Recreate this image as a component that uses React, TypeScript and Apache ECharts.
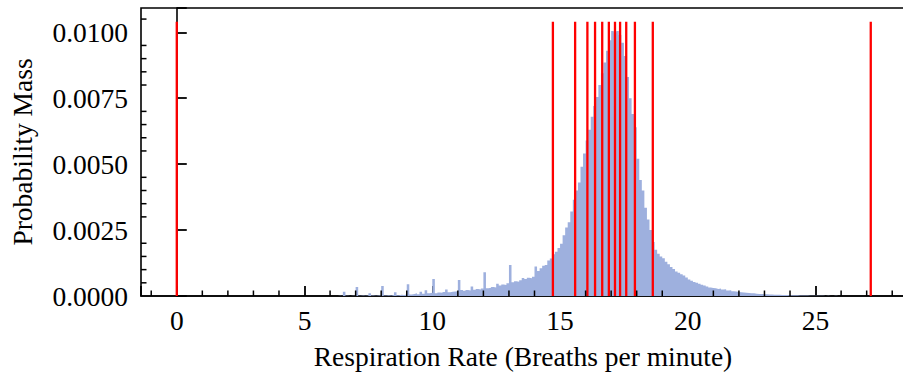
import React, { useEffect, useRef } from "react";
import * as echarts from "echarts";

// Histogram of respiration rate: left edge of first bin, bin width, probability mass per bin (x 1e-4)
const HIST_START = 6.0;
const HIST_STEP = 0.1;
const histMassPer10k = [
  0, 0, 0, 0.1, 0, 1.6, 0.1, 0, 0.1, 0.1,
  3.4, 0.1, 0.2, 0.1, 0.2, 1.0, 0.2, 0.1, 0.2, 0.3,
  3.8, 0.2, 0.3, 0.2, 0.4, 1.4, 0.3, 0.5, 0.4, 0.6,
  4.5, 0.6, 0.8, 1.0, 0.7, 1.6, 0.9, 2.2, 1.0, 1.2,
  6.4, 1.0, 1.3, 1.2, 1.5, 2.5, 1.4, 1.6, 1.7, 1.8,
  6.1, 2.3, 2.0, 2.3, 2.1, 3.6, 2.4, 2.7, 2.5, 2.8,
  9.0, 2.9, 3.1, 3.4, 3.2, 4.6, 4.0, 4.4, 4.2, 4.8,
  11.8, 5.2, 5.6, 5.4, 6.0, 6.8, 6.4, 6.9, 6.7, 7.3,
  11.2, 9.5, 10.5, 11.5, 11.8, 13.5, 14.2, 15.8, 16.8, 18.2,
  19.8, 23.0, 26.0, 28.0, 32.0, 36.5, 40.0, 43.0, 49.0, 54.0,
  59.0, 63.0, 68.0, 72.0, 75.5, 80.0, 84.5, 88.5, 93.0, 97.0,
  100.5, 100.0, 100.5, 99.0, 96.0, 91.0, 83.0, 75.0, 69.0, 64.0,
  52.0, 44.0, 40.0, 33.5, 29.0, 25.0, 20.5, 17.5, 16.0, 15.0,
  14.3, 13.0, 12.0, 11.0, 10.2, 9.3, 8.8, 8.2, 7.8, 7.0,
  6.3, 5.8, 5.3, 5.0, 4.6, 4.3, 4.0, 3.6, 3.2, 3.0,
  2.9, 2.7, 2.8, 2.5, 2.6, 2.1, 2.2, 1.8, 1.7, 1.5,
  1.4, 1.3, 1.2, 1.1, 1.0, 1.0, 0.9, 0.8, 0.8, 0.7,
  0.7, 0.6, 0.6, 0.5, 0.5, 0.5, 0.4, 0.4, 0.4, 0.3,
  0.3, 0.3, 0.3, 0.2, 0.2, 0.2, 0.2, 0.1, 0.1, 0.1,
  0.1, 0.1, 0.1, 0, 0.1, 0, 0, 0.1, 0, 0,
];

// Red vertical quantile lines (breaths per minute) and their height
const quantileLines = [0, 14.72, 15.59, 16.07, 16.37, 16.65, 16.91, 17.15, 17.35, 17.59, 17.93, 18.63, 27.16];
const QUANTILE_TOP = 0.0104;

// Axes
const X_MIN = -1.4;
const X_MAX = 28.5;
const Y_MIN = 0;
const Y_MAX = 0.01092;
const xTickLabels = [0, 5, 10, 15, 20, 25];
const yTickLabels = [0, 0.0025, 0.005, 0.0075, 0.01];
const xMinorTicks = [-1, 1, 2, 3, 4, 6, 7, 8, 9, 11, 12, 13, 14, 16, 17, 18, 19, 21, 22, 23, 24, 26, 27, 28];
const yMinorTicks = [0.0005, 0.001, 0.0015, 0.002, 0.003, 0.0035, 0.004, 0.0045, 0.0055, 0.006, 0.0065, 0.007, 0.008, 0.0085, 0.009, 0.0095, 0.0105];

const FONT = "'Liberation Serif', 'Times New Roman', serif";
const FS = 27.5;

export default function App() {
  const ref = useRef<HTMLDivElement>(null);

  useEffect(() => {
    if (!ref.current) return;
    const chart = echarts.init(ref.current, undefined, { renderer: "svg" });

    const histData: number[][] = histMassPer10k.map((m, i) => [HIST_START + i * HIST_STEP, m / 10000]);
    histData.push([HIST_START + histMassPer10k.length * HIST_STEP, 0]);

    const near = (v: number, list: number[]) => list.some((t) => Math.abs(t - v) < 1e-9);

    chart.setOption({
      animation: false,
      backgroundColor: "#ffffff",
      textStyle: { fontFamily: FONT, color: "#000" },
      grid: {
        left: 139,
        top: 8,
        right: 0,
        bottom: 79,
        show: true,
        borderColor: "#000",
        borderWidth: 1.6,
        backgroundColor: "transparent",
      },
      xAxis: {
        type: "value",
        min: X_MIN,
        max: X_MAX,
        splitNumber: 6,
        name: "Respiration Rate (Breaths per minute)",
        nameLocation: "middle",
        nameGap: 46,
        nameTextStyle: { fontFamily: FONT, fontSize: FS, color: "#000" },
        axisLine: { show: true, lineStyle: { color: "#000", width: 1.6 } },
        axisTick: { show: true, inside: true, length: 10, lineStyle: { color: "#000", width: 1.8 } },
        minorTick: { show: false },
        splitLine: { show: false },
        axisLabel: {
          margin: 10,
          fontFamily: FONT,
          fontSize: FS,
          color: "#000",
          formatter: (v: number) => (near(v, xTickLabels) ? String(Math.round(v)) : ""),
        },
      },
      yAxis: {
        type: "value",
        min: Y_MIN,
        max: Y_MAX,
        interval: 0.0025,
        name: "Probability Mass",
        nameLocation: "middle",
        nameGap: 105,
        nameTextStyle: { fontFamily: FONT, fontSize: FS, color: "#000" },
        axisLine: { show: true, lineStyle: { color: "#000", width: 1.6 } },
        axisTick: { show: true, inside: true, length: 10, lineStyle: { color: "#000", width: 1.8 } },
        minorTick: { show: false },
        splitLine: { show: false },
        axisLabel: {
          margin: 13,
          fontFamily: FONT,
          fontSize: FS,
          color: "#000",
          formatter: (v: number) => (near(v, yTickLabels) ? v.toFixed(4) : ""),
        },
      },
      series: [
        {
          type: "line",
          name: "histogram",
          data: histData,
          step: "end",
          symbol: "none",
          lineStyle: { width: 0, opacity: 0 },
          areaStyle: { color: "#9eb0de", opacity: 1 },
          z: 2,
        },
        {
          type: "custom",
          name: "quantiles",
          data: quantileLines.map((v) => [v, 0]),
          encode: { x: 0, y: 1 },
          renderItem: (_p: any, api: any) => {
            const v = api.value(0);
            const a = api.coord([v, 0]);
            const b = api.coord([v, QUANTILE_TOP]);
            return {
              type: "line",
              shape: { x1: a[0], y1: a[1], x2: b[0], y2: b[1] },
              style: { stroke: "#ff0000", lineWidth: 2.3 },
            };
          },
          z: 3,
        },
        {
          type: "custom",
          name: "xMinor",
          data: xMinorTicks.map((v) => [v, Y_MIN]),
          encode: { x: 0, y: 1 },
          clip: false,
          renderItem: (_p: any, api: any) => {
            const a = api.coord([api.value(0), Y_MIN]);
            return {
              type: "line",
              shape: { x1: a[0], y1: a[1], x2: a[0], y2: a[1] - 5.5 },
              style: { stroke: "#000", lineWidth: 1.5 },
            };
          },
          z: 4,
        },
        {
          type: "custom",
          name: "yMinor",
          data: yMinorTicks.map((v) => [X_MIN, v]),
          encode: { x: 0, y: 1 },
          clip: false,
          renderItem: (_p: any, api: any) => {
            const a = api.coord([X_MIN, api.value(1)]);
            return {
              type: "line",
              shape: { x1: a[0], y1: a[1], x2: a[0] + 5.5, y2: a[1] },
              style: { stroke: "#000", lineWidth: 1.5 },
            };
          },
          z: 4,
        },
      ],
    });

    return () => chart.dispose();
  }, []);

  return (
    <div
      style={{
        position: "fixed",
        left: 0,
        top: 0,
        width: 903,
        height: 375,
        overflow: "hidden",
        background: "#fff",
      }}
    >
      <div ref={ref} style={{ width: 908, height: 375 }} />
    </div>
  );
}
